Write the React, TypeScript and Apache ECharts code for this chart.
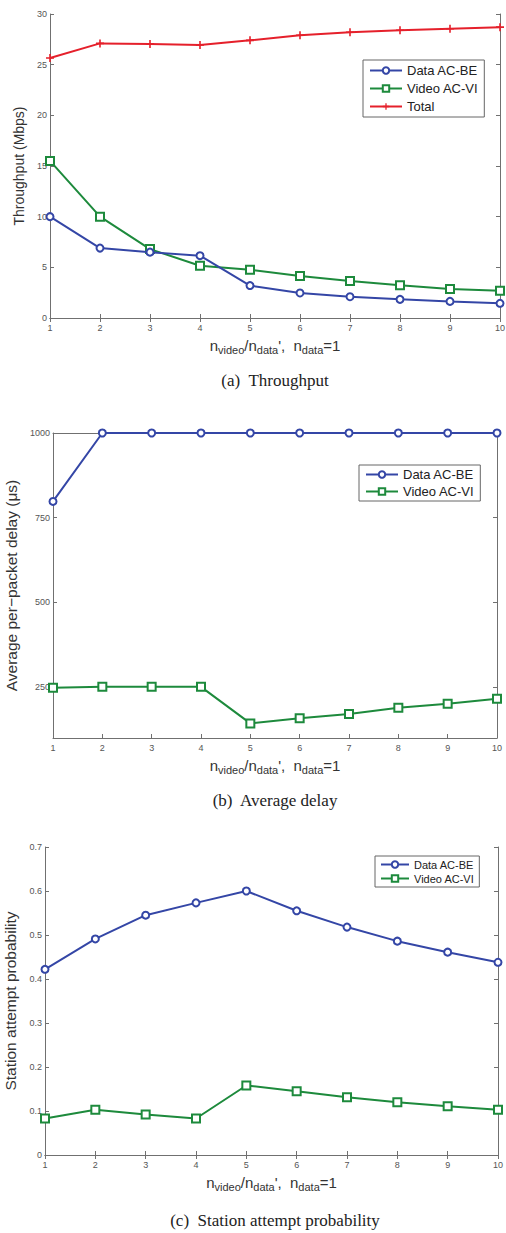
import React, { useEffect, useRef } from "react";
import * as echarts from "echarts";

const ratios = [1, 2, 3, 4, 5, 6, 7, 8, 9, 10];

// (a) Throughput (Mbps)
const thrData = [10.0, 6.9, 6.5, 6.15, 3.2, 2.47, 2.1, 1.84, 1.64, 1.45];
const thrVideo = [15.5, 10.0, 6.8, 5.16, 4.77, 4.15, 3.65, 3.23, 2.86, 2.7];
const thrTotal = [25.66, 27.1, 27.05, 26.95, 27.4, 27.9, 28.2, 28.4, 28.55, 28.7];

// (b) Average per-packet delay (us)
const delayData = [798, 1000, 1000, 1000, 1000, 1000, 1000, 1000, 1000, 1000];
const delayVideo = [248, 251, 251, 251, 143, 158, 171, 189, 201, 216];
const delayTicks = [250, 500, 750, 1000];

// (c) Station attempt probability
const probData = [0.422, 0.491, 0.545, 0.573, 0.6, 0.555, 0.518, 0.486, 0.461, 0.438];
const probVideo = [0.083, 0.103, 0.092, 0.083, 0.158, 0.145, 0.131, 0.12, 0.111, 0.103];

const seriesNames = ["Data AC-BE", "Video AC-VI", "Total"];
const captions = ["(a)  Throughput", "(b)  Average delay", "(c)  Station attempt probability"];
const yNames = ["Throughput (Mbps)", "Average per\u2212packet delay (\u03bcs)", "Station attempt probability"];

const BLUE = "#3446a6";
const GREEN = "#1d8a3c";
const RED = "#e5202b";
const AXIS = "#707070";
const SANS = "Liberation Sans, Arial, sans-serif";
const SERIF = "Liberation Serif, Times New Roman, serif";
const PLUS = "path://M4,0 L6,0 L6,4 L10,4 L10,6 L6,6 L6,10 L4,10 L4,6 L0,6 L0,4 L4,4 Z";

const pairs = (ys: number[]) => ratios.map((x, i) => [x, ys[i]]);

export default function App() {
  const ref = useRef<HTMLDivElement>(null);
  useEffect(() => {
    if (!ref.current) return;
    const chart = echarts.init(ref.current, null, { renderer: "svg" });

    const gb = { containLabel: false, outerBoundsMode: "none" };
    const grids = [
      { ...gb, left: 50, top: 14, width: 450, height: 304 },
      { ...gb, left: 53, top: 433, width: 444, height: 305 },
      { ...gb, left: 45, top: 847, width: 453, height: 308 },
    ];

    const xName = "n{s|video}/n{s|data}',  n{s|data}=1";
    const nameStyle = {
      color: "#333",
      fontFamily: SANS,
      fontSize: 15,
      rich: {
        s: { fontSize: 11, fontFamily: SANS, color: "#333", lineHeight: 8, verticalAlign: "bottom" as const },
      },
      lineHeight: 20,
    };

    const xAxes: any[] = [];
    const yAxes: any[] = [];
    const yCfg = [
      { min: 0, max: 30, interval: 5 },
      { min: 100, max: 1000, custom: delayTicks },
      { min: 0, max: 0.7, interval: 0.1 },
    ];
    const yGaps = [22, 32, 27];
    const yFont = [14, 15.5, 15.5];

    grids.forEach((g, gi) => {
      const baseLine = { show: true, lineStyle: { color: AXIS, width: 1 } };
      xAxes.push({
        type: "value",
        gridIndex: gi,
        min: 1,
        max: 10,
        interval: 1,
        position: "bottom",
        axisLine: baseLine,
        axisTick: { inside: true, length: 4, lineStyle: { color: AXIS } },
        axisLabel: { color: "#555", fontSize: 9, fontFamily: SANS, margin: 5 },
        splitLine: { show: false },
        name: xName,
        nameLocation: "middle",
        nameGap: 17,
        nameTextStyle: nameStyle,
      });
      xAxes.push({
        type: "value",
        gridIndex: gi,
        min: 1,
        max: 10,
        interval: 1,
        position: "top",
        axisLine: baseLine,
        axisTick: { inside: true, length: 4, lineStyle: { color: AXIS } },
        axisLabel: { show: false },
        splitLine: { show: false },
      });
      const c: any = yCfg[gi];
      const yBase: any = {
        type: "value",
        gridIndex: gi,
        min: c.min,
        max: c.max,
        splitLine: { show: false },
        axisLine: baseLine,
      };
      if (c.interval) yBase.interval = c.interval;
      yAxes.push({
        ...yBase,
        position: "left",
        axisTick: { inside: true, length: 4, lineStyle: { color: AXIS }, ...(c.custom ? { customValues: c.custom } : {}) },
        axisLabel: {
          color: "#555",
          fontSize: 9,
          fontFamily: SANS,
          margin: 3,
          formatter: (v: number) => String(v),
          ...(c.custom ? { customValues: c.custom } : {}),
        },
        name: yNames[gi],
        nameLocation: "middle",
        nameRotate: 90,
        nameGap: yGaps[gi],
        nameTextStyle: { color: "#333", fontFamily: SANS, fontSize: yFont[gi] },
      });
      yAxes.push({
        ...yBase,
        position: "right",
        axisTick: { inside: true, length: 4, lineStyle: { color: AXIS }, ...(c.custom ? { customValues: c.custom } : {}) },
        axisLabel: { show: false },
      });
    });

    const mk = (name: string, gi: number, ys: number[]) => {
      const style =
        name === "Data AC-BE"
          ? { color: BLUE, symbol: "emptyCircle", size: 7 }
          : name === "Video AC-VI"
          ? { color: GREEN, symbol: "emptyRect", size: 8 }
          : { color: RED, symbol: PLUS, size: 8 };
      return {
        type: "line",
        name,
        xAxisIndex: gi * 2,
        yAxisIndex: gi * 2,
        data: pairs(ys),
        symbol: style.symbol,
        symbolSize: style.size,
        showSymbol: true,
        lineStyle: { color: style.color, width: 2 },
        itemStyle: { color: style.color, borderColor: style.color, borderWidth: name === "Total" ? 0 : 2 },
        z: name === "Data AC-BE" ? 3 : 2,
      };
    };

    const series = [
      mk("Data AC-BE", 0, thrData),
      mk("Video AC-VI", 0, thrVideo),
      mk("Total", 0, thrTotal),
      mk("Data AC-BE", 1, delayData),
      mk("Video AC-VI", 1, delayVideo),
      mk("Data AC-BE", 2, probData),
      mk("Video AC-VI", 2, probVideo),
    ];

    const legBase = {
      orient: "vertical",
      backgroundColor: "#fff",
      borderColor: "#666",
      borderWidth: 1,
      borderRadius: 0,
      itemWidth: 32,
      itemHeight: 8,
      selectedMode: false,
    };
    const legend = [
      {
        ...legBase,
        left: 363,
        top: 60,
        padding: [4, 6, 4, 6],
        itemGap: 5,
        data: seriesNames,
        textStyle: { fontFamily: SANS, fontSize: 13, color: "#222" },
      },
      {
        ...legBase,
        left: 359,
        top: 465,
        padding: [3, 6, 3, 6],
        itemGap: 4,
        data: seriesNames.slice(0, 2),
        textStyle: { fontFamily: SANS, fontSize: 13, color: "#222" },
      },
      {
        ...legBase,
        left: 375,
        top: 856,
        padding: [3, 5, 3, 5],
        itemGap: 3,
        itemWidth: 28,
        data: seriesNames.slice(0, 2),
        textStyle: { fontFamily: SANS, fontSize: 11, color: "#222" },
      },
    ];

    const capY = [380, 800, 1220];
    const graphic = captions.map((t, i) => ({
      type: "text",
      x: 275,
      y: capY[i],
      style: {
        text: t,
        fontFamily: SERIF,
        fontSize: 17,
        fill: "#222",
        textAlign: "center",
        textVerticalAlign: "middle",
      },
    }));

    chart.setOption({
      animation: false,
      backgroundColor: "#fff",
      grid: grids,
      xAxis: xAxes,
      yAxis: yAxes,
      legend,
      series,
      graphic,
    });
    return () => chart.dispose();
  }, []);

  return (
    <div
      ref={ref}
      style={{ position: "absolute", left: 0, top: 0, width: 506, height: 1233 }}
    />
  );
}
